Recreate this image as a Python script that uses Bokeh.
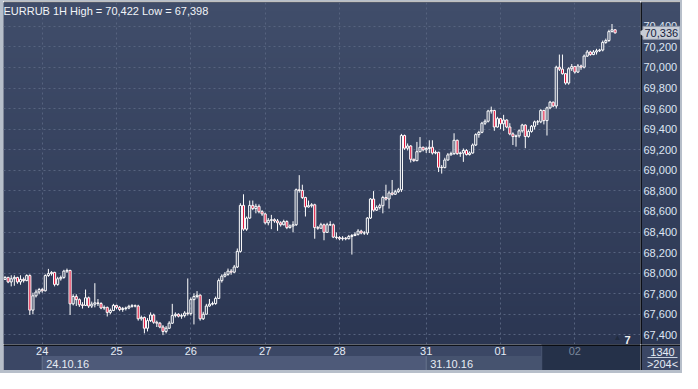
import numpy as np
from bokeh.plotting import figure
from bokeh.models import ColumnDataSource, FixedTicker, Label, Range1d, Div
from bokeh.layouts import column, row
from bokeh.embed import file_html
from bokeh.resources import INLINE
from bokeh.core.properties import value

# ---------------- data (EURRUB, 1H bars) ----------------
first_open = 67940
close = [
    67959, 67915, 67946, 67959, 67915, 67940, 67928, 67977, 67641, 67780,
    67817, 67841, 67829, 67977, 67996, 68008, 67891, 67946, 67959, 68020,
    68027, 67702, 67773, 67743, 67693, 67687, 67761, 67681, 67699, 67712,
    67705, 67662, 67668, 67619, 67638, 67687, 67668, 67647, 67656, 67662,
    67678, 67684, 67681, 67557, 67570, 67465, 67539, 67594, 67523, 67514,
    67477, 67434, 67465, 67514, 67588, 67601, 67582, 67588, 67613, 67607,
    67743, 67773, 67786, 67557, 67601, 67681, 67699, 67705, 67755, 67928,
    67971, 67989, 68020, 68010, 68060, 68212, 68659, 68428, 68536, 68659,
    68628, 68650, 68598, 68576, 68490, 68514, 68520, 68508, 68490, 68471,
    68502, 68443, 68459, 68471, 68811, 68804, 68736, 68644, 68656, 68665,
    68443, 68437, 68471, 68397, 68471, 68471, 68351, 68347, 68335, 68341,
    68335, 68357, 68366, 68378, 68409, 68391, 68391, 68536, 68721, 68613,
    68638, 68656, 68736, 68721, 68780, 68767, 68792, 68811, 69338, 69215,
    69236, 69107, 69094, 69181, 69224, 69199, 69212, 69224, 69168, 69175,
    69029, 69026, 69100, 69150, 69162, 69292, 69162, 69168, 69193, 69153,
    69168, 69246, 69347, 69369, 69458, 69477, 69576, 69582, 69421, 69502,
    69452, 69489, 69421, 69354, 69329, 69335, 69384, 69440, 69329, 69378,
    69428, 69471, 69471, 69582, 69483, 69607, 69662, 69625, 70002, 69983,
    69939, 69848, 69987, 70008, 69955, 70014, 70002, 70110, 70150, 70125,
    70150, 70162, 70169, 70243, 70261, 70348, 70366, 70336,
]
high = [
    67971, 67965, 67980, 67980, 67965, 67980, 67959, 67989, 67989, 67810,
    67841, 67857, 67857, 67989, 68042, 68020, 68014, 67965, 67977, 68033,
    68045, 68033, 67795, 67795, 67755, 67718, 67841, 67773, 67724, 67903,
    67749, 67718, 67687, 67675, 67656, 67702, 67693, 67681, 67672, 67675,
    67693, 67699, 67696, 67693, 67588, 67579, 67563, 67619, 67607, 67539,
    67526, 67496, 67486, 67533, 67702, 67619, 67610, 67607, 67631, 67949,
    67764, 67804, 67826, 67795, 67625, 67702, 67749, 67724, 67773, 67949,
    67989, 68011, 68045, 68040, 68080, 68240, 68680, 68767, 68551, 68706,
    68706, 68675, 68669, 68613, 68588, 68536, 68567, 68533, 68527, 68505,
    68520, 68514, 68474, 68505, 68823, 68953, 68860, 68743, 68706, 68681,
    68675, 68459, 68490, 68483, 68490, 68505, 68483, 68397, 68360, 68360,
    68351, 68372, 68381, 68397, 68428, 68422, 68409, 68545, 68730, 68798,
    68659, 68675, 68752, 68860, 68798, 68906, 68811, 68829, 69354, 69347,
    69261, 69245, 69113, 69276, 69323, 69230, 69230, 69292, 69292, 69193,
    69181, 69051, 69122, 69168, 69181, 69360, 69298, 69181, 69212, 69206,
    69184, 69261, 69360, 69384, 69471, 69496, 69588, 69619, 69588, 69520,
    69508, 69539, 69495, 69458, 69369, 69347, 69397, 69452, 69446, 69397,
    69440, 69483, 69489, 69594, 69588, 69619, 69675, 69668, 70017, 70125,
    70125, 69946, 70002, 70033, 70015, 70033, 70027, 70125, 70169, 70162,
    70169, 70181, 70181, 70261, 70280, 70366, 70422, 70372,
]
low = [
    67934, 67903, 67872, 67878, 67897, 67888, 67909, 67922, 67594, 67601,
    67764, 67795, 67810, 67823, 67965, 67977, 67872, 67878, 67928, 67946,
    68002, 67594, 67687, 67681, 67672, 67656, 67681, 67662, 67662, 67668,
    67681, 67650, 67644, 67579, 67601, 67631, 67650, 67631, 67625, 67638,
    67650, 67665, 67668, 67539, 67539, 67415, 67434, 67526, 67508, 67477,
    67465, 67398, 67415, 67459, 67508, 67570, 67570, 67557, 67570, 67588,
    67588, 67502, 67755, 67539, 67545, 67601, 67675, 67687, 67693, 67749,
    67909, 67959, 67975, 67985, 68000, 68050, 68200, 68412, 68412, 68527,
    68613, 68582, 68582, 68557, 68474, 68465, 68428, 68490, 68412, 68453,
    68465, 68428, 68434, 68397, 68459, 68783, 68721, 68551, 68638, 68638,
    68335, 68422, 68434, 68320, 68391, 68459, 68341, 68329, 68320, 68317,
    68320, 68329, 68181, 68360, 68366, 68378, 68372, 68372, 68527, 68598,
    68605, 68619, 68582, 68706, 68628, 68755, 68761, 68780, 68790, 69199,
    69193, 69076, 69082, 69088, 69175, 69184, 69168, 69168, 69153, 69156,
    68983, 68968, 69020, 69094, 69144, 69150, 69150, 69131, 69082, 69144,
    69144, 69162, 69236, 69317, 69360, 69440, 69465, 69551, 69384, 69415,
    69400, 69384, 69409, 69341, 69246, 69230, 69317, 69366, 69215, 69317,
    69366, 69397, 69440, 69458, 69446, 69338, 69594, 69613, 69600, 69965,
    69930, 69832, 69832, 69965, 69940, 69946, 69977, 69990, 70101, 70113,
    70119, 70125, 70150, 70156, 70230, 70249, 70341, 70329,
]
price_ticks = [67400, 67600, 67800, 68000, 68200, 68400, 68600, 68800,
               69000, 69200, 69400, 69600, 69800, 70000, 70200, 70400]
day_tick_index = [12, 36, 60, 84, 108, 136, 160, 184]
day_labels = ["24", "25", "26", "27", "28", "31", "01", "02"]
date_tick_index = [12, 136]
date_labels = ["24.10.16", "31.10.16"]
scroll_start = 173.3
title_text = "EURRUB 1H High = 70,422 Low = 67,398"
last_price_text = "70,336"
bars_text = "1340"
window_text = ">204<"

# ---------------- layout constants ----------------
TOTAL_W, TOTAL_H = 682, 373
EDGE_L, EDGE_R, EDGE_T, EDGE_B = 3, 2, 1, 3
RB = 40
FW = TOTAL_W - EDGE_L - EDGE_R - RB
TOP = 1
H2 = 26
FH = TOTAL_H - EDGE_T - EDGE_B - TOP - H2
H1 = TOP + FH
X0, X1 = -0.5, 205.2
Y0, Y1 = 67307, 70631
FONT = "Liberation Sans"
RED = "#e3173e"
GRID = "#56637f"
LABEL = "#dde5f3"
BAND = "#3b4765"
MID = "#35415d"
EDGE = "#b7bfca"

open_ = [first_open] + close[:-1]
idx = list(range(len(close)))
body_top = [max(o, c) for o, c in zip(open_, close)]
body_bot = [min(o, c) for o, c in zip(open_, close)]
alpha = [0.0 if c >= o else 1.0 for o, c in zip(open_, close)]
src = ColumnDataSource(dict(i=idx, high=high, low=low, top=body_top,
                            bottom=body_bot, alpha=alpha))

# vertical background gradient (RGBA image, one column)
n = 80
t = np.linspace(0.0, 1.0, n)[:, None]
c_bot = np.array([0x2b, 0x36, 0x52], dtype=float)
c_top = np.array([0x40, 0x4d, 0x6a], dtype=float)
rgb = c_bot + (c_top - c_bot) * t
img = np.empty((n, 1), dtype=np.uint32)
view = img.view(dtype=np.uint8).reshape((n, 1, 4))
view[:, 0, 0:3] = rgb.round().astype(np.uint8)
view[:, 0, 3] = 255


def bare(fig):
    fig.xgrid.visible = False
    fig.ygrid.visible = False
    fig.outline_line_color = None


# ---------------- main chart ----------------
p = figure(width=FW, height=H1, x_range=Range1d(X0, X1), y_range=Range1d(Y0, Y1),
           output_backend="svg", toolbar_location=None,
           x_axis_location=None, y_axis_location=None,
           min_border_left=0, min_border_right=0,
           min_border_top=TOP, min_border_bottom=0)
p.background_fill_color = MID
p.border_fill_color = "black"
p.outline_line_color = None
p.image_rgba(image=[img], x=X0, y=Y0, dw=X1 - X0, dh=Y1 - Y0, level="image")

for g, ticks in ((p.ygrid, price_ticks), (p.xgrid, day_tick_index)):
    g.ticker = FixedTicker(ticks=ticks)
    g.grid_line_color = GRID
    g.grid_line_dash = "2 3"
    g.grid_line_width = 1

p.segment("i", "high", "i", "top", source=src, line_color="white", line_width=1)
p.segment("i", "bottom", "i", "low", source=src, line_color="white", line_width=1)
p.vbar(x="i", width=0.68, top="top", bottom="bottom", source=src,
       fill_color=RED, fill_alpha="alpha", line_color="white", line_width=1)

p.add_layout(Label(x=0, y=FH - 2, x_units="screen", y_units="screen", text=title_text,
                   text_baseline="top", text_align="left", text_color="#f2f4f8",
                   text_font=FONT, text_font_size="11px"))
p.add_layout(Label(x=FW - 27, y=3, x_units="screen", y_units="screen", text="▲",
                   text_baseline="bottom", text_color="#222c40", text_font_size="8px"))
p.add_layout(Label(x=FW - 16, y=1, x_units="screen", y_units="screen", text="7",
                   text_baseline="bottom", text_color="#f0f0f0", text_font=FONT,
                   text_font_size="11px", text_font_style="bold"))

# ---------------- price scale (right column) ----------------
s = figure(width=RB, height=H1, x_range=Range1d(0, RB), y_range=p.y_range,
           output_backend="svg", toolbar_location=None,
           x_axis_location=None, y_axis_location=None,
           min_border_left=0, min_border_right=0, min_border_top=TOP, min_border_bottom=0)
bare(s)
s.background_fill_color = MID
s.border_fill_color = "black"
s.image_rgba(image=[img], x=0, y=Y0, dw=RB, dh=Y1 - Y0, level="image")
s.segment(x0=[0.5], y0=[Y0], x1=[0.5], y1=[Y1], line_color="black", line_width=1.5)
tick_text = [f"{v:,}" for v in price_ticks]
s.text(x=3, y=price_ticks, text=tick_text, text_align="left", text_baseline="middle",
       text_font=value(FONT), text_font_size=value("11px"), text_color=LABEL)
s.rect(x=[21], y=[close[-1]], width=37, height=13, height_units="screen",
       fill_color="#c8cdd6", line_color="#8d96a8", line_width=1)
s.scatter(x=[2.5], y=[close[-1]], marker="triangle", size=8, angle=np.pi / 2,
          fill_color="#c8cdd6", line_color="#c8cdd6")
s.text(x=4, y=[close[-1]], text=[last_price_text], text_align="left", text_baseline="middle",
       text_font=value(FONT), text_font_size=value("11px"), text_color="#14213d")

# ---------------- time bands ----------------
b = figure(width=FW, height=H2, x_range=p.x_range, y_range=Range1d(0, H2),
           output_backend="svg", toolbar_location=None,
           x_axis_location=None, y_axis_location=None,
           min_border_left=0, min_border_right=0, min_border_top=0, min_border_bottom=0)
bare(b)
b.background_fill_color = BAND
b.border_fill_color = BAND

b.quad(left=[date_tick_index[0], date_tick_index[1]],
       right=[date_tick_index[1], scroll_start],
       bottom=0, top=14.5, fill_color=["#4e5a79", "#46536f"], line_color=None)
b.segment(x0=date_tick_index, y0=0, x1=date_tick_index, y1=14.5, line_color="#68748e", line_width=1)
b.quad(left=scroll_start, right=X1, bottom=0, top=H2, fill_color="#253149", line_color="#4a5671")
b.segment(x0=[X0], y0=[H2 - 0.5], x1=[X1], y1=[H2 - 0.5], line_color="black", line_width=1.5)

day_colors = ["#7b879c" if d >= scroll_start else "#e6ecf5" for d in day_tick_index]
b.text(x=day_tick_index, y=20, text=day_labels, text_align="center", text_baseline="middle",
       text_font=value(FONT), text_font_size=value("11px"), text_color=day_colors)
b.text(x=date_tick_index, y=7, text=date_labels, x_offset=4, text_align="left",
       text_baseline="middle", text_font=value(FONT), text_font_size=value("11px"),
       text_color="#e6ecf5")

# ---------------- corner (bar counters) ----------------
c = figure(width=RB, height=H2, x_range=Range1d(0, RB), y_range=Range1d(0, H2),
           output_backend="svg", toolbar_location=None,
           x_axis_location=None, y_axis_location=None,
           min_border_left=0, min_border_right=0, min_border_top=0, min_border_bottom=0)
bare(c)
c.background_fill_color = BAND
c.border_fill_color = BAND
c.segment(x0=[0, 0.5], y0=[H2 - 0.5, 0], x1=[RB, 0.5], y1=[H2 - 0.5, H2],
          line_color="black", line_width=1.5)
c.segment(x0=[7], y0=[13], x1=[37], y1=[13], line_color="#c9d1de", line_width=1)
c.text(x=[22, 22], y=[19, 7], text=[bars_text, window_text], text_align="center",
       text_baseline="middle", text_font=value(FONT), text_font_size=value("11px"),
       text_color="#e6ecf5")


def strip(w, h):
    return Div(width=w, height=h, margin=0, styles={"background-color": EDGE})


inner = column(row(p, s), row(b, c))
body = row(strip(EDGE_L, H1 + H2), inner, strip(EDGE_R, H1 + H2))
layout = column(strip(TOTAL_W, EDGE_T), body, strip(TOTAL_W, EDGE_B))
open("out.html", "w").write(file_html(layout, INLINE))
